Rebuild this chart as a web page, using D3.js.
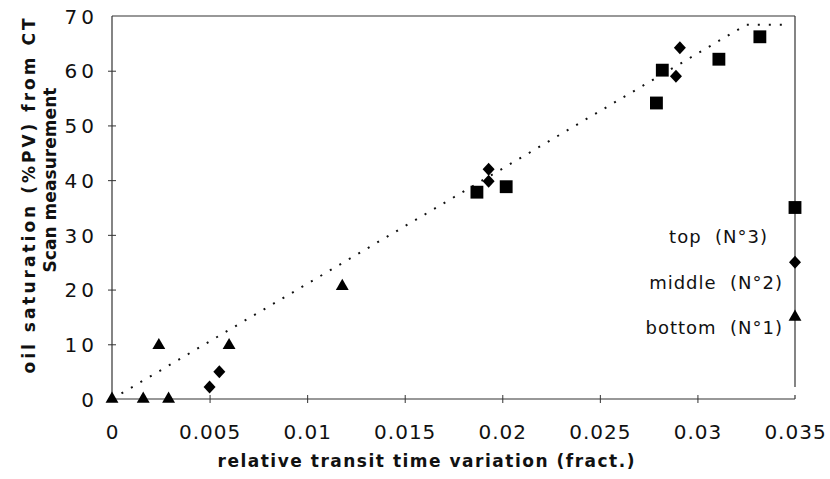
<!doctype html>
<html lang="en">
<head>
    <meta charset="utf-8">
    <script src="https://d3js.org/d3.v7.min.js"></script>
    <title>Oil saturation vs transit time</title>
    <style>
        body { margin: 0; background: white; }
        svg text { fill: #111; }
        .tick-label { font-family: "DejaVu Sans", sans-serif; font-size: 20px; }
        .title { font-family: "DejaVu Sans", sans-serif; font-weight: bold; font-size: 17px; }
        .legend-label { font-family: "DejaVu Sans", sans-serif; font-size: 18px; white-space: pre; }
    </style>
</head>
<body>
    <svg id="svg" width="830" height="479"></svg>

    <script>
        // data
        let xTicks = [0, 0.005, 0.01, 0.015, 0.02, 0.025, 0.03, 0.035];
        let xTickLabels = ["0", "0.005", "0.01", "0.015", "0.02", "0.025", "0.03", "0.035"];
        let yTicks = [0, 10, 20, 30, 40, 50, 60, 70];

        // bottom (N°1) - triangles
        let bottomX = [0, 0.0016, 0.0029, 0.0024, 0.0060, 0.0118];
        let bottomY = [0, 0, 0, 9.8, 9.8, 20.6];
        // middle (N°2) - diamonds
        let middleX = [0.0050, 0.0055, 0.0193, 0.0193, 0.0291, 0.0289];
        let middleY = [2.2, 5.0, 42.0, 39.8, 64.2, 59.0];
        // top (N°3) - squares
        let topX = [0.0187, 0.0202, 0.0279, 0.0282, 0.0311, 0.0332];
        let topY = [37.8, 38.8, 54.1, 60.1, 62.1, 66.2];

        // trend line (dotted)
        let trendX = [0, 0.0325, 0.0345];
        let trendY = [0, 68.4, 68.4];

        // legend entries sit on the right border
        let legendNames = ["top  (N°3)", "middle  (N°2)", "bottom  (N°1)"];
        let legendY = [35, 25, 15];
        let legendShapes = ["square", "diamond", "triangle"];

        let width = 830, height = 479;
        let margin = { top: 16, right: 35, bottom: 80, left: 112 };

        let svg = d3.select("#svg");

        let xScale = d3.scaleLinear().domain([0, 0.035]).range([margin.left, width - margin.right]);
        let yScale = d3.scaleLinear().domain([0, 70]).range([height - margin.bottom, margin.top]);

        let x0 = xScale(0), x1 = xScale(0.035), y0 = yScale(0), y1 = yScale(70);

        // frame
        let frame = svg.append("g").attr("stroke", "#333").attr("stroke-width", 1.2);
        frame.append("line").attr("x1", x0).attr("x2", x0).attr("y1", y1).attr("y2", y0);
        frame.append("line").attr("x1", x0).attr("x2", x1).attr("y1", y1).attr("y2", y1);
        frame.append("line").attr("x1", x0).attr("x2", x1).attr("y1", y0).attr("y2", y0);
        frame.append("line").attr("x1", x1).attr("x2", x1).attr("y1", y1).attr("y2", y0 - 12);
        frame.append("line").attr("x1", x1).attr("x2", x1).attr("y1", y0 - 4).attr("y2", y0);

        // axes with cross ticks
        let xAxis = svg.append("g")
            .attr("transform", `translate(0, ${y0})`)
            .call(d3.axisBottom(xScale).tickValues(xTicks).tickSize(4).tickFormat((d, i) => xTickLabels[i]));
        xAxis.select(".domain").remove();
        xAxis.selectAll(".tick line").attr("y1", -4).attr("y2", 4).attr("stroke", "#333");
        xAxis.selectAll(".tick text")
            .attr("class", "tick-label")
            .attr("y", 40)
            .attr("dy", 0)
            .style("letter-spacing", "1px");
        xAxis.selectAll(".tick").filter(d => d === 0 || d === 0.035).select("line").remove();

        let yAxis = svg.append("g")
            .attr("transform", `translate(${x0}, 0)`)
            .call(d3.axisLeft(yScale).tickValues(yTicks).tickSize(4));
        yAxis.select(".domain").remove();
        yAxis.selectAll(".tick line").attr("x1", -4).attr("x2", 4).attr("stroke", "#333");
        yAxis.selectAll(".tick text")
            .attr("class", "tick-label")
            .attr("x", -14)
            .attr("dy", "0.36em")
            .style("letter-spacing", "4px");
        yAxis.selectAll(".tick").filter(d => d === 0 || d === 70).select("line").remove();

        // trend line
        let line = d3.line().x(d => xScale(d[0])).y(d => yScale(d[1]));
        svg.append("path")
            .datum(trendX.map((d, i) => [d, trendY[i]]))
            .attr("d", line)
            .attr("fill", "none")
            .attr("stroke", "#111")
            .attr("stroke-width", 2)
            .attr("stroke-dasharray", "2 9");

        // marker shapes
        let diamond = "M0,-6.5L6,0L0,6.5L-6,0Z";
        let shapes = {
            square: () => d3.symbol().type(d3.symbolSquare).size(165)(),
            diamond: () => diamond,
            triangle: () => d3.symbol().type(d3.symbolTriangle).size(72)()
        };

        function drawSeries(xs, ys, shape) {
            svg.append("g").selectAll("path")
                .data(xs.map((d, i) => [d, ys[i]]))
                .join("path")
                .attr("transform", d => `translate(${xScale(d[0])}, ${yScale(d[1])})`)
                .attr("d", shapes[shape])
                .attr("fill", "#000");
        }

        drawSeries(bottomX, bottomY, "triangle");
        drawSeries(middleX, middleY, "diamond");
        drawSeries(topX, topY, "square");

        // legend
        let legendOffsets = [29, 20, 11];
        let legendRight = [768, 783, 783];
        legendNames.forEach((name, i) => {
            svg.append("path")
                .attr("transform", `translate(${x1}, ${yScale(legendY[i])})`)
                .attr("d", shapes[legendShapes[i]]())
                .attr("fill", "#000");
            svg.append("text")
                .attr("class", "legend-label")
                .attr("x", legendRight[i])
                .attr("y", yScale(legendY[i]) + legendOffsets[i])
                .attr("dy", "0.35em")
                .attr("text-anchor", "end")
                .style("letter-spacing", "1px")
                .text(name);
        });

        // axis titles
        svg.append("text")
            .attr("class", "title")
            .attr("x", 426)
            .attr("y", 467)
            .attr("text-anchor", "middle")
            .attr("textLength", 417)
            .attr("lengthAdjust", "spacing")
            .text("relative transit time variation (fract.)");

        svg.append("text")
            .attr("class", "title")
            .attr("transform", "translate(35, 196) rotate(-90)")
            .attr("text-anchor", "middle")
            .attr("textLength", 355)
            .attr("lengthAdjust", "spacing")
            .text("oil saturation (%PV) from CT");

        svg.append("text")
            .attr("class", "title")
            .attr("transform", "translate(56, 180) rotate(-90)")
            .attr("text-anchor", "middle")
            .attr("textLength", 185)
            .attr("lengthAdjust", "spacing")
            .text("Scan measurement");
    </script>
</body>
</html>
